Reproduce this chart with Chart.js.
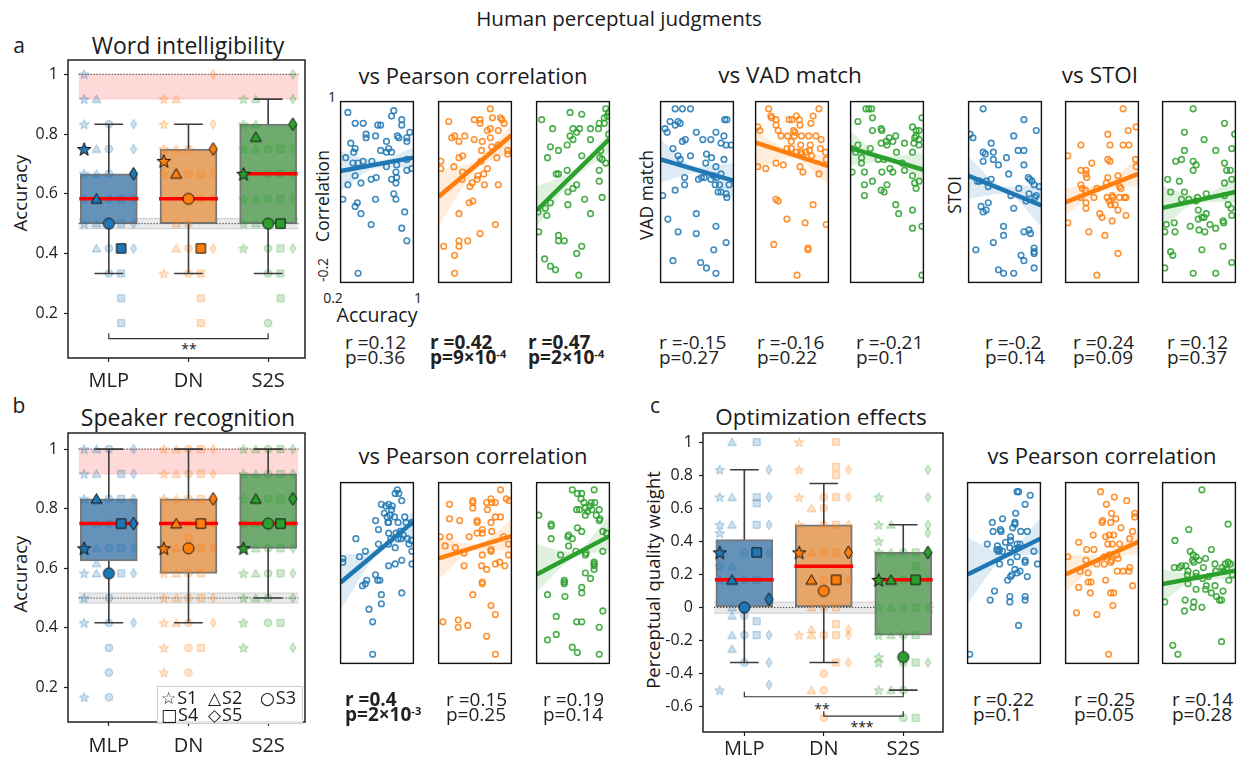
<!DOCTYPE html>
<html>
<head>
<meta charset="utf-8">
<title>Human perceptual judgments</title>
<script src="https://cdn.jsdelivr.net/npm/chart.js@4.4.1/dist/chart.umd.min.js"></script>
<style>
html, body { margin: 0; padding: 0; background: #fff; }
#fig { position: relative; width: 1238px; height: 760px; overflow: hidden; font-family: 'Open Sans', sans-serif; color: #1a1a1a; }
#fig canvas { position: absolute; }
.t { position: absolute; white-space: nowrap; transform: translate(-50%, -50%); line-height: 1; }
.t.rot { transform: translate(-50%, -50%) rotate(-90deg); }
.stat { position: absolute; white-space: nowrap; font-size: 19px; line-height: 15px; color: #222; }
.stat.sig { font-weight: bold; }
.stat sup { font-size: 11px; line-height: 0; vertical-align: 6px; }
.legend { position: absolute; left: 157px; top: 686px; width: 144px; height: 36px; border: 1px solid #cfcfcf; background: rgba(255,255,255,0.85); font-size: 18px; }
.legend span { position: absolute; white-space: nowrap; line-height: 1; transform: translateY(-50%); }
.legend b { font-family: 'DejaVu Sans', sans-serif; font-weight: normal; font-size: 17px; margin-right: 1px; }
</style>
</head>
<body>
<div id="fig"></div>
<script>
// ---------- categories ----------
const groups = ['MLP', 'DN', 'S2S'];
const subjects = ['S1', 'S2', 'S3', 'S4', 'S5'];
const shapes = ['star', 'triangle', 'circle', 'square', 'diamond'];

// ---------- a: word intelligibility (box stats per group) ----------
const wordQ1 = [0.5, 0.5, 0.5];
const wordQ3 = [0.667, 0.75, 0.833];
const wordMed = [0.583, 0.583, 0.667];
const wordLo = [0.333, 0.333, 0.333];
const wordHi = [0.833, 0.833, 0.917];
// subject means (S1..S5) per group
const wordSubj = [[0.75, 0.583, 0.5, 0.417, 0.667], [0.71, 0.667, 0.583, 0.417, 0.75], [0.667, 0.79, 0.5, 0.5, 0.833]];
// individual values per group / subject
const wordFaint = [
  [[1, 0.917, 0.833, 0.667, 0.583, 0.5], [0.917, 0.75, 0.667, 0.5, 0.417], [0.833, 0.75, 0.667, 0.583, 0.417, 0.333], [0.583, 0.5, 0.333, 0.25, 0.167], [0.833, 0.75, 0.583, 0.5, 0.417]],
  [[0.917, 0.833, 0.75, 0.667, 0.333], [0.917, 0.75, 0.5, 0.417], [0.75, 0.667, 0.5, 0.417, 0.333], [0.667, 0.583, 0.333, 0.25, 0.167], [1, 0.833, 0.667, 0.583, 0.417]],
  [[0.917, 0.833, 0.75, 0.583, 0.5, 0.417], [0.917, 0.833, 0.75, 0.583, 0.5], [0.75, 0.667, 0.583, 0.417, 0.333, 0.167], [0.75, 0.667, 0.583, 0.417, 0.333, 0.25], [1, 0.917, 0.75, 0.667, 0.583, 0.417]]
];

// ---------- b: speaker recognition ----------
const spkQ1 = [0.625, 0.583, 0.667];
const spkQ3 = [0.833, 0.833, 0.917];
const spkMed = [0.75, 0.75, 0.75];
const spkLo = [0.417, 0.417, 0.5];
const spkHi = [1, 1, 1];
const spkSubj = [[0.667, 0.833, 0.583, 0.75, 0.75], [0.667, 0.75, 0.667, 0.75, 0.833], [0.667, 0.833, 0.75, 0.75, 0.833]];
const spkFaint = [
  [[1, 0.917, 0.833, 0.583, 0.5, 0.417, 0.167], [1, 0.917, 0.75, 0.667, 0.617, 0.583], [1, 0.833, 0.75, 0.667, 0.5, 0.417, 0.333, 0.25, 0.167], [0.917, 0.833, 0.667, 0.583], [1, 0.917, 0.833, 0.667, 0.583, 0.417]],
  [[1, 0.917, 0.833, 0.583, 0.5, 0.417, 0.333, 0.25], [1, 0.917, 0.833, 0.667, 0.583, 0.5, 0.417], [1, 0.917, 0.833, 0.75, 0.7, 0.583, 0.5, 0.417, 0.333, 0.25], [1, 0.917, 0.833, 0.667, 0.583, 0.5, 0.333], [1, 0.917, 0.75, 0.667, 0.5, 0.417]],
  [[1, 0.917, 0.833, 0.75, 0.583, 0.5, 0.417, 0.333], [1, 0.917, 0.75, 0.667, 0.583, 0.5], [1, 0.917, 0.833, 0.667, 0.583, 0.5, 0.417], [1, 0.917, 0.833, 0.667, 0.583, 0.417], [1, 0.917, 0.75, 0.667, 0.583, 0.5, 0.333]]
];

// ---------- c: optimization effects ----------
const optQ1 = [0, 0, -0.167];
const optQ3 = [0.41, 0.5, 0.333];
const optMed = [0.167, 0.25, 0.167];
const optLo = [-0.333, -0.333, -0.5];
const optHi = [0.833, 0.75, 0.5];
const optSubj = [[0.333, 0.167, 0, 0.333, 0.05], [0.333, 0.167, 0.1, 0.167, 0.333], [0.167, 0.167, -0.3, 0.167, 0.333]];
const optFaint = [
  [[0.833, 0.667, 0.5, 0.45, 0.25, 0.167, -0.5], [1, 0.667, 0.5, 0.25, 0, -0.05, -0.167, -0.25], [0.333, 0.167, -0.05, -0.167, -0.333], [1, 0.667, 0.63, 0.5, 0.167, -0.083, -0.167], [0.833, 0.667, 0.5, 0.333, -0.167, -0.333, -0.467]],
  [[1, 0.833, 0.667, 0.5, -0.167], [0.6, 0.333, 0, -0.133, -0.167, -0.5], [0.667, 0.6, 0.5, 0.333, 0.167, 0, -0.167, -0.4, -0.5, -0.667], [1, 0.85, 0.8, 0.667, 0.5, 0.333, 0, -0.1, -0.167, -0.333], [0.833, 0.667, 0.5, 0.167, -0.133, -0.167, -0.333]],
  [[0.667, 0.5, 0.4, 0.333, 0, -0.167, -0.3, -0.333, -0.5], [0.5, 0.333, 0, -0.167, -0.5], [0.333, 0.167, 0, -0.167, -0.333, -0.5, -0.667], [0.333, 0.25, 0.167, 0, -0.167, -0.333, -0.667], [0.833, 0.667, 0.5, 0.45, 0.333, 0.167, 0, -0.333]]
];

// significance brackets: [from group, to group, level]
const wordBrackets = [[0, 2, 0.115]];
const wordStars = ['**'];
const optBrackets = [[0, 2, -0.54], [1, 2, -0.657]];
const optStars = ['**', '***'];

// ---------- scatter panels (x: accuracy, y: metric; both scaled to the panel 0..1) ----------
const wordCorrMLP = [[.10,.94],[.20,.88],[.31,.88],[.70,.92],[.73,.95],[.84,.90],[.84,.87],[.51,.87],[.55,.87],[.35,.82],[.35,.80],[.48,.81],[.14,.77],[.20,.74],[.18,.72],[.63,.78],[.78,.81],[.80,.80],[.91,.80],[.95,.83],[.91,.78],[.55,.73],[.66,.74],[.63,.72],[.70,.72],[.07,.69],[.17,.66],[.24,.66],[.31,.67],[.43,.67],[.63,.64],[.77,.65],[.91,.68],[.98,.63],[.91,.62],[.20,.59],[.76,.61],[.77,.58],[.42,.57],[.49,.58],[.70,.57],[.76,.55],[.10,.54],[.28,.55],[.03,.46],[.48,.46],[.73,.49],[.76,.46],[.20,.42],[.23,.44],[.28,.38],[.88,.39],[.42,.32],[.84,.30],[.91,.23],[.24,.05]];
const wordCorrDN = [[.14,.89],[.49,.90],[.57,.90],[.57,.88],[.71,.96],[.74,.91],[.85,.91],[.87,.90],[.90,.88],[.71,.85],[.67,.84],[.82,.84],[.71,.80],[.60,.78],[.49,.79],[.18,.80],[.22,.81],[.28,.78],[.36,.81],[.82,.76],[.73,.75],[.95,.73],[.95,.71],[.59,.73],[.80,.69],[.28,.69],[.33,.70],[.03,.67],[.03,.63],[.21,.64],[.33,.61],[.58,.67],[.67,.63],[.62,.60],[.54,.59],[.53,.57],[.63,.54],[.82,.54],[.46,.55],[.43,.53],[.32,.57],[.47,.45],[.42,.44],[.28,.38],[.78,.32],[.40,.23],[.57,.27],[.28,.23],[.28,.20],[.07,.20],[.22,.15],[.22,.05]];
const wordCorrS2S = [[.07,.90],[.46,.94],[.62,.93],[.22,.85],[.50,.85],[.55,.83],[.59,.85],[.46,.81],[.50,.79],[.42,.76],[.74,.85],[.74,.79],[.86,.88],[.85,.85],[.93,.88],[.95,.96],[.99,.94],[.93,.91],[.97,.92],[.99,.82],[.19,.75],[.30,.73],[.15,.69],[.62,.70],[.88,.73],[.87,.69],[.90,.68],[.95,.66],[.86,.62],[.86,.56],[.90,.47],[.27,.60],[.30,.60],[.42,.62],[.50,.52],[.55,.54],[.43,.50],[.66,.46],[.43,.43],[.74,.38],[.19,.44],[.12,.41],[.14,.37],[.02,.39],[.03,.28],[.30,.26],[.30,.23],[.38,.23],[.62,.20],[.55,.16],[.11,.13],[.19,.09],[.26,.07],[.58,.04]];
const wordVadMLP = [[.20,.96],[.30,.96],[.41,.96],[.13,.89],[.20,.87],[.24,.89],[.27,.88],[.06,.85],[.09,.83],[.49,.83],[.76,.83],[.58,.79],[.69,.79],[.87,.81],[.88,.90],[.91,.90],[.83,.77],[.90,.76],[.97,.76],[.30,.78],[.34,.79],[.17,.74],[.24,.70],[.27,.68],[.41,.70],[.63,.71],[.70,.69],[.62,.66],[.87,.68],[.76,.64],[.83,.60],[.33,.58],[.52,.57],[.56,.58],[.60,.58],[.69,.57],[.73,.59],[.77,.58],[.75,.54],[.81,.54],[.94,.54],[.79,.50],[.83,.50],[.90,.49],[.91,.47],[.03,.48],[.20,.51],[.33,.54],[.49,.38],[.10,.35],[.24,.28],[.49,.27],[.76,.31],[.90,.22],[.73,.18],[.17,.12],[.55,.11],[.63,.08],[.76,.05]];
const wordVadDN = [[.18,.96],[.21,.92],[.22,.91],[.28,.90],[.28,.87],[.03,.86],[.06,.84],[.31,.84],[.46,.90],[.50,.90],[.56,.92],[.60,.90],[.61,.87],[.79,.92],[.76,.88],[.87,.96],[.52,.84],[.54,.83],[.53,.81],[.44,.81],[.35,.81],[.63,.81],[.73,.81],[.83,.81],[.49,.78],[.62,.76],[.75,.76],[.90,.79],[.43,.74],[.49,.74],[.56,.72],[.62,.72],[.69,.72],[.64,.71],[.74,.73],[.89,.74],[.96,.72],[.77,.70],[.97,.68],[.28,.66],[.38,.65],[.03,.64],[.14,.63],[.61,.64],[.65,.61],[.87,.60],[.28,.46],[.31,.45],[.79,.43],[.43,.35],[.68,.33],[.97,.32],[.25,.21],[.72,.19],[.72,.18],[.57,.04]];
const wordVadS2S = [[.21,.96],[.25,.96],[.29,.96],[.10,.89],[.30,.91],[.30,.84],[.42,.85],[.43,.84],[.98,.91],[.85,.86],[.90,.84],[.94,.84],[.90,.81],[.88,.80],[.94,.79],[.53,.80],[.62,.81],[.49,.78],[.42,.77],[.58,.78],[.50,.76],[.74,.77],[.87,.77],[.94,.76],[.01,.74],[.10,.76],[.07,.72],[.27,.74],[.15,.69],[.15,.66],[.38,.68],[.46,.68],[.63,.72],[.85,.72],[.71,.66],[.02,.61],[.19,.61],[.43,.61],[.54,.63],[.58,.61],[.74,.62],[.85,.59],[.94,.56],[.88,.55],[.90,.52],[.19,.54],[.30,.56],[.50,.54],[.42,.51],[.46,.50],[.19,.48],[.62,.43],[.66,.38],[.85,.40],[.85,.30],[.98,.31],[.98,.04]];
const wordStoiMLP = [[.20,.96],[.76,.90],[.93,.84],[.02,.82],[.06,.80],[.62,.81],[.31,.77],[.20,.72],[.23,.71],[.34,.72],[.20,.67],[.34,.68],[.41,.65],[.52,.69],[.68,.73],[.76,.73],[.76,.65],[.15,.56],[.12,.56],[.24,.56],[.27,.53],[.31,.57],[.55,.60],[.69,.52],[.82,.58],[.84,.57],[.87,.56],[.90,.54],[.97,.53],[.83,.49],[.93,.48],[.91,.47],[.79,.45],[.58,.48],[.17,.42],[.20,.39],[.24,.40],[.27,.44],[.62,.41],[.48,.31],[.48,.26],[.76,.28],[.83,.29],[.85,.27],[.34,.22],[.10,.18],[.72,.15],[.76,.12],[.90,.19],[.90,.17],[.90,.16],[.90,.08],[.41,.07],[.48,.05],[.62,.05]];
const wordStoiDN = [[.79,.96],[.97,.86],[.86,.84],[.58,.82],[.21,.76],[.61,.76],[.79,.76],[.87,.76],[.03,.70],[.36,.66],[.58,.68],[.61,.67],[.96,.68],[.97,.64],[.21,.62],[.28,.62],[.28,.60],[.29,.58],[.58,.58],[.72,.59],[.21,.54],[.23,.52],[.27,.51],[.43,.52],[.56,.55],[.74,.53],[.76,.52],[.21,.47],[.28,.44],[.39,.47],[.57,.47],[.64,.48],[.65,.47],[.74,.47],[.81,.47],[.83,.47],[.60,.45],[.62,.43],[.68,.43],[.28,.41],[.72,.40],[.47,.38],[.50,.36],[.64,.34],[.83,.37],[.03,.33],[.32,.28],[.54,.26],[.72,.16],[.43,.04]];
const wordStoiS2S = [[.42,.96],[.85,.88],[.30,.83],[.57,.79],[.99,.82],[.30,.73],[.73,.73],[.95,.74],[.18,.67],[.26,.68],[.42,.67],[.46,.65],[.42,.62],[.85,.66],[.88,.62],[.93,.62],[.07,.57],[.23,.56],[.95,.57],[.85,.55],[.11,.50],[.30,.50],[.48,.47],[.46,.45],[.26,.46],[.36,.46],[.60,.49],[.85,.48],[.90,.43],[.94,.41],[.49,.40],[.60,.38],[.57,.36],[.49,.35],[.54,.36],[.05,.32],[.16,.33],[.17,.28],[.03,.28],[.38,.31],[.50,.29],[.58,.28],[.65,.32],[.73,.30],[.83,.34],[.84,.33],[.95,.37],[.83,.20],[.54,.18],[.11,.17],[.14,.15],[.03,.08],[.42,.05],[.73,.05],[.95,.11]];
const spkCorrMLP = [[.78,.96],[.80,.94],[.75,.94],[.84,.90],[.56,.88],[.62,.87],[.66,.88],[.71,.87],[.70,.85],[.60,.83],[.64,.81],[.68,.82],[.74,.81],[.48,.79],[.65,.78],[.66,.78],[.88,.81],[.90,.78],[.79,.78],[.98,.78],[.52,.74],[.66,.72],[.76,.72],[.82,.73],[.86,.71],[.69,.69],[.79,.69],[.83,.69],[.92,.69],[.94,.66],[.97,.68],[.21,.69],[.52,.66],[.66,.66],[.75,.64],[.34,.62],[.26,.59],[.03,.58],[.03,.56],[.98,.62],[.84,.57],[.98,.55],[.66,.54],[.75,.55],[.48,.49],[.51,.46],[.36,.46],[.34,.44],[.30,.43],[.54,.46],[.56,.38],[.84,.39],[.56,.33],[.39,.30],[.44,.23],[.44,.05]];
const spkCorrDN = [[.85,.96],[.72,.91],[.47,.90],[.47,.89],[.15,.88],[.66,.89],[.73,.89],[.78,.89],[.93,.91],[.97,.90],[.47,.86],[.67,.85],[.15,.80],[.29,.79],[.53,.79],[.72,.78],[.78,.81],[.85,.81],[.53,.78],[.60,.74],[.60,.72],[.53,.72],[.42,.70],[.73,.73],[.02,.70],[.15,.70],[.89,.70],[.96,.66],[.09,.65],[.23,.64],[.35,.61],[.60,.60],[.72,.63],[.72,.62],[.96,.60],[.35,.54],[.59,.54],[.66,.52],[.78,.55],[.84,.56],[.91,.54],[.60,.45],[.60,.44],[.47,.38],[.72,.32],[.78,.27],[.06,.23],[.27,.24],[.27,.20],[.40,.21],[.66,.15],[.78,.05]];
const spkCorrS2S = [[.49,.96],[.56,.94],[.62,.94],[.79,.96],[.61,.91],[.65,.89],[.75,.89],[.80,.89],[.73,.87],[.55,.85],[.59,.85],[.67,.86],[.70,.84],[.76,.85],[.86,.85],[.67,.82],[.82,.82],[.03,.82],[.20,.77],[.20,.76],[.56,.75],[.62,.73],[.44,.71],[.43,.70],[.49,.69],[.87,.80],[.86,.79],[.91,.73],[.96,.72],[.20,.69],[.44,.65],[.33,.60],[.54,.62],[.68,.61],[.67,.60],[.91,.62],[.79,.56],[.79,.55],[.79,.54],[.79,.52],[.67,.50],[.74,.47],[.38,.46],[.38,.45],[.38,.44],[.62,.42],[.62,.39],[.15,.38],[.39,.37],[.27,.26],[.55,.23],[.62,.23],[.91,.29],[.86,.20],[.15,.13],[.27,.16],[.49,.09],[.56,.06],[.86,.05]];
const optCorrMLP = [[.68,.95],[.70,.95],[.86,.93],[.79,.88],[.66,.83],[.34,.78],[.48,.80],[.65,.78],[.65,.77],[.35,.73],[.45,.74],[.46,.73],[.62,.75],[.73,.73],[.82,.73],[.27,.66],[.52,.67],[.59,.70],[.59,.68],[.41,.65],[.44,.63],[.40,.63],[.42,.62],[.48,.62],[.58,.64],[.68,.66],[.70,.64],[.72,.66],[.65,.63],[.91,.62],[.68,.59],[.79,.57],[.79,.56],[.96,.55],[.44,.55],[.59,.56],[.65,.52],[.72,.51],[.68,.50],[.61,.49],[.59,.48],[.55,.46],[.82,.48],[.37,.40],[.31,.35],[.58,.37],[.58,.34],[.79,.37],[.79,.35],[.70,.21],[.03,.05]];
const optCorrDN = [[.48,.95],[.67,.92],[.84,.90],[.56,.88],[.63,.83],[.95,.83],[.95,.81],[.51,.79],[.50,.78],[.62,.78],[.69,.80],[.76,.75],[.38,.71],[.55,.70],[.60,.71],[.66,.71],[.92,.73],[.18,.67],[.39,.63],[.58,.66],[.64,.66],[.74,.66],[.88,.69],[.29,.63],[.03,.59],[.28,.57],[.53,.59],[.60,.60],[.70,.60],[.72,.58],[.63,.57],[.53,.55],[.43,.55],[.20,.51],[.31,.50],[.62,.56],[.71,.51],[.79,.51],[.88,.53],[.87,.51],[.55,.46],[.31,.45],[.35,.45],[.18,.42],[.34,.39],[.62,.39],[.66,.39],[.65,.32],[.92,.43],[.15,.28],[.43,.27],[.59,.05]];
const optCorrS2S = [[.54,.96],[.36,.74],[.17,.68],[.90,.77],[.67,.63],[.38,.62],[.42,.60],[.46,.59],[.50,.57],[.59,.58],[.41,.57],[.43,.56],[.26,.54],[.23,.53],[.32,.54],[.16,.53],[.35,.51],[.34,.49],[.46,.50],[.56,.53],[.72,.55],[.82,.53],[.86,.55],[.90,.56],[.93,.55],[.73,.51],[.84,.51],[.88,.52],[.46,.48],[.35,.44],[.55,.47],[.63,.48],[.60,.43],[.72,.43],[.59,.41],[.46,.41],[.67,.39],[.74,.37],[.78,.35],[.81,.35],[.83,.40],[.91,.46],[.96,.49],[.31,.35],[.43,.34],[.30,.29],[.42,.31],[.54,.31],[.03,.34],[.81,.12],[.14,.10],[.21,.05]];

// regression fits (y at left / right edge) and CI band (left, middle, right)
const fitLine = [[.616,.69],[.474,.814],[.398,.793],[.68,.563],[.773,.643],[.743,.623],[.59,.426],[.444,.60],[.412,.50],[.448,.784],[.581,.704],[.492,.704],[.492,.69],[.492,.673],[.439,.513]];
const bandLo = [[.505,.632,.635],[.31,.615,.726],[.31,.568,.717],[.55,.605,.465],[.62,.69,.54],[.646,.67,.558],[.462,.49,.311],[.373,.505,.533],[.302,.44,.444],[.297,.60,.696],[.465,.625,.625],[.395,.58,.625],[.333,.575,.607],[.395,.565,.607],[.342,.462,.465]];
const bandHi = [[.725,.674,.745],[.62,.673,.867],[.531,.622,.832],[.79,.64,.66],[.835,.727,.70],[.832,.70,.717],[.693,.53,.542],[.524,.54,.693],[.533,.475,.586],[.598,.635,.846],[.696,.66,.793],[.660,.615,.819],[.696,.61,.802],[.598,.60,.731],[.519,.49,.572]];

// correlation statistics under each panel
const statR = ['0.12','0.42','0.47','-0.15','-0.16','-0.21','-0.2','0.24','0.12','0.4','0.15','0.19','0.22','0.25','0.14'];
const statP = ['0.36','9×10<sup>-4</sup>','2×10<sup>-4</sup>','0.27','0.22','0.1','0.14','0.09','0.37','2×10<sup>-3</sup>','0.25','0.14','0.1','0.05','0.28'];
const statSig = [false,true,true,false,false,false,false,false,false,true,false,false,false,false,false];

// ---------- styling ----------
const colors = ['#1f77b4', '#ff7f0e', '#2ca02c'];
const boxFill = ['#6592b9', '#e8a568', '#6fab6f'];
const subjOffset = [-0.31, -0.155, 0, 0.155, 0.31];

Chart.defaults.font.family = "'Open Sans', sans-serif";
Chart.defaults.color = '#222';

const fig = document.getElementById('fig');

function rgba(hex, a) {
  const n = parseInt(hex.slice(1), 16);
  return 'rgba(' + (n >> 16) + ',' + ((n >> 8) & 255) + ',' + (n & 255) + ',' + a + ')';
}

function addText(html, x, y, size, rot) {
  const d = document.createElement('div');
  d.className = 't' + (rot ? ' rot' : '');
  d.style.left = x + 'px';
  d.style.top = y + 'px';
  d.style.fontSize = size + 'px';
  d.innerHTML = html;
  fig.appendChild(d);
  return d;
}

function addCanvas(x, y, w, h) {
  const c = document.createElement('canvas');
  c.width = w; c.height = h;
  c.style.left = x + 'px'; c.style.top = y + 'px';
  c.style.width = w + 'px'; c.style.height = h + 'px';
  fig.appendChild(c);
  return c;
}

// marker images used as point styles
function makeMarker(shape, size, fill, stroke, lw) {
  const w = Math.ceil(size) + 2 * (Math.ceil(lw) + 1);
  const c = document.createElement('canvas');
  c.width = w; c.height = w;
  const g = c.getContext('2d');
  const cx = w / 2, cy = w / 2, r = size / 2;
  g.beginPath();
  if (shape === 'star') {
    for (let i = 0; i < 10; i++) {
      const rr = i % 2 ? r * 0.42 : r;
      const a = -Math.PI / 2 + i * Math.PI / 5;
      const px = cx + rr * Math.cos(a), py = cy + r * 0.1 + rr * Math.sin(a);
      if (i) g.lineTo(px, py); else g.moveTo(px, py);
    }
  } else if (shape === 'triangle') {
    g.moveTo(cx, cy - r * 0.95);
    g.lineTo(cx + r, cy + r * 0.8);
    g.lineTo(cx - r, cy + r * 0.8);
  } else if (shape === 'circle') {
    g.arc(cx, cy, r, 0, Math.PI * 2);
  } else if (shape === 'square') {
    g.rect(cx - r * 0.85, cy - r * 0.85, r * 1.7, r * 1.7);
  } else {
    g.moveTo(cx, cy - r);
    g.lineTo(cx + r * 0.62, cy);
    g.lineTo(cx, cy + r);
    g.lineTo(cx - r * 0.62, cy);
  }
  g.closePath();
  g.fillStyle = fill;
  g.fill();
  g.lineWidth = lw;
  g.strokeStyle = stroke;
  g.stroke();
  return c;
}

const boldSize = { star: 14, triangle: 11, circle: 11, square: 11, diamond: 13 };
const faintSize = { star: 10, triangle: 8.5, circle: 7.5, square: 8, diamond: 9.5 };
const boldImg = colors.map(col => shapes.map(s => makeMarker(s, boldSize[s], col, '#111', 1)));
const faintImg = colors.map(col => shapes.map(s => makeMarker(s, faintSize[s], rgba(col, 0.22), rgba(col, 0.38), 1)));

// frame around every axes box
const framePlugin = {
  id: 'frame',
  afterDraw(chart) {
    const a = chart.chartArea, ctx = chart.ctx;
    ctx.save();
    ctx.strokeStyle = '#111';
    ctx.lineWidth = 1.4;
    ctx.strokeRect(a.left, a.top, a.right - a.left, a.bottom - a.top);
    ctx.restore();
  }
};

function fmtTick(v) {
  return String(Math.round(v * 10) / 10);
}

// box plot panel (a, b, c)
function boxPanel(canvas, s) {
  const datasets = [];
  // shaded reference bands
  s.bands.forEach(b => {
    datasets.push({ type: 'line', data: [{ x: -0.38, y: b[0] }, { x: 2.38, y: b[0] }], borderColor: b[3], borderWidth: 1, pointRadius: 0, order: 30 });
    datasets.push({ type: 'line', data: [{ x: -0.38, y: b[1] }, { x: 2.38, y: b[1] }], borderColor: b[3], borderWidth: 1, pointRadius: 0, fill: '-1', backgroundColor: b[2], order: 30 });
  });
  // dotted reference lines
  s.refs.forEach(y => {
    datasets.push({ type: 'line', data: [{ x: -0.38, y: y }, { x: 2.38, y: y }], borderColor: '#333', borderWidth: 1, borderDash: [1.2, 1.8], pointRadius: 0, order: 29 });
  });
  // boxes
  datasets.push({
    type: 'bar', data: groups.map((g, i) => ({ x: i, y: [s.q1[i], s.q3[i]] })),
    backgroundColor: boxFill, borderColor: 'rgba(105,105,105,0.9)', borderWidth: 2, borderSkipped: false, barThickness: 57, order: 25
  });
  // individual values
  const faintPts = [], faintSty = [];
  s.faint.forEach((gr, gi) => gr.forEach((vals, si) => vals.forEach(v => {
    faintPts.push({ x: gi + subjOffset[si], y: v });
    faintSty.push(faintImg[gi][si]);
  })));
  datasets.push({ type: 'scatter', data: faintPts, pointStyle: ctx => faintSty[ctx.dataIndex] || faintSty[0], pointRadius: 4, order: 20 });
  // whiskers and caps
  const wh = [];
  groups.forEach((g, i) => {
    wh.push({ x: i, y: s.hi[i] }, { x: i, y: s.q3[i] }, { x: i, y: null });
    wh.push({ x: i, y: s.q1[i] }, { x: i, y: s.lo[i] }, { x: i, y: null });
    wh.push({ x: i - 0.18, y: s.hi[i] }, { x: i + 0.18, y: s.hi[i] }, { x: i, y: null });
    wh.push({ x: i - 0.18, y: s.lo[i] }, { x: i + 0.18, y: s.lo[i] }, { x: i, y: null });
  });
  datasets.push({ type: 'line', data: wh, borderColor: '#3c3c3c', borderWidth: 1.6, pointRadius: 0, spanGaps: false, order: 15 });
  // medians
  const md = [];
  groups.forEach((g, i) => md.push({ x: i - 0.37, y: s.med[i] }, { x: i + 0.37, y: s.med[i] }, { x: i, y: null }));
  datasets.push({ type: 'line', data: md, borderColor: '#ff0000', borderWidth: 3.5, pointRadius: 0, spanGaps: false, order: 10 });
  // significance brackets
  const br = [];
  s.brackets.forEach(b => {
    br.push({ x: b[0], y: b[2] + s.tick }, { x: b[0], y: b[2] }, { x: b[1], y: b[2] }, { x: b[1], y: b[2] + s.tick }, { x: b[1], y: null });
  });
  datasets.push({ type: 'line', data: br, borderColor: '#333', borderWidth: 1.2, pointRadius: 0, spanGaps: false, order: 10 });
  // subject means
  const boldPts = [], boldSty = [];
  s.subj.forEach((gr, gi) => gr.forEach((v, si) => {
    boldPts.push({ x: gi + subjOffset[si], y: v });
    boldSty.push(boldImg[gi][si]);
  }));
  datasets.push({ type: 'scatter', data: boldPts, pointStyle: ctx => boldSty[ctx.dataIndex] || boldSty[0], pointRadius: 6, order: 1 });

  const axisGrid = { display: true, drawOnChartArea: false, drawTicks: true, tickLength: 4, tickWidth: 1.2, tickColor: '#222', offset: false };
  new Chart(canvas, {
    type: 'scatter',
    data: { datasets: datasets },
    options: {
      responsive: false, animation: false, events: [],
      layout: { padding: { top: s.padTop, right: s.padRight, left: 0, bottom: 0 } },
      plugins: { legend: { display: false }, tooltip: { enabled: false } },
      scales: {
        x: {
          type: 'linear', min: s.xMin, max: s.xMax, offset: false,
          afterFit: sc => { sc.height = s.xAxisH; },
          afterBuildTicks: sc => { sc.ticks = groups.map((g, i) => ({ value: i })); },
          ticks: { callback: v => groups[v], font: { size: 20 }, color: '#222', padding: s.xPad, maxRotation: 0, autoSkip: false },
          grid: axisGrid, border: { display: false }
        },
        y: {
          type: 'linear', min: s.yMin, max: s.yMax,
          afterFit: sc => { sc.width = s.yAxisW; },
          afterBuildTicks: sc => { sc.ticks = s.yTicks.map(v => ({ value: v })); },
          ticks: { callback: fmtTick, font: { size: 16 }, color: '#222', padding: 6 },
          grid: axisGrid, border: { display: false }
        }
      }
    },
    plugins: [framePlugin]
  });
}

// one small regression scatter panel
function scatterPanel(canvas, pts, k, color) {
  new Chart(canvas, {
    type: 'scatter',
    data: {
      datasets: [
        { data: pts.map(p => ({ x: p[0], y: p[1] })), pointRadius: 2.8, pointBorderWidth: 1.6, pointBorderColor: rgba(color, 0.85), pointBackgroundColor: 'rgba(0,0,0,0)', clip: 0, order: 3 },
        { type: 'line', data: bandLo[k].map((v, i) => ({ x: i / 2, y: v })), borderColor: 'rgba(0,0,0,0)', borderWidth: 1, pointRadius: 0, cubicInterpolationMode: 'monotone', order: 2 },
        { type: 'line', data: bandHi[k].map((v, i) => ({ x: i / 2, y: v })), borderColor: 'rgba(0,0,0,0)', borderWidth: 1, pointRadius: 0, cubicInterpolationMode: 'monotone', fill: '-1', backgroundColor: rgba(color, 0.15), order: 2 },
        { type: 'line', data: [{ x: 0, y: fitLine[k][0] }, { x: 1, y: fitLine[k][1] }], borderColor: color, borderWidth: 4.5, pointRadius: 0, order: 1 }
      ]
    },
    options: {
      responsive: false, animation: false, events: [],
      layout: { padding: 2 },
      plugins: { legend: { display: false }, tooltip: { enabled: false } },
      scales: { x: { display: false, min: 0, max: 1 }, y: { display: false, min: 0, max: 1 } }
    },
    plugins: [framePlugin]
  });
}

// ---------- text ----------
addText('Human perceptual judgments', 619, 18, 20.5);
addText('a', 19, 45, 21);
addText('b', 19, 405, 21);
addText('c', 655, 405, 21);
addText('Word intelligibility', 188, 45, 23);
addText('Speaker recognition', 188, 417, 23);
addText('Optimization effects', 821, 417, 22.5);
addText('vs Pearson correlation', 473, 75, 22);
addText('vs VAD match', 790, 75, 22.5);
addText('vs STOI', 1100, 75, 22.5);
addText('vs Pearson correlation', 473, 455, 22);
addText('vs Pearson correlation', 1102, 455, 22);
addText('Accuracy', 20, 193, 18.5, true);
addText('Accuracy', 20, 574, 18.5, true);
addText('Perceptual quality weight', 653, 580, 18.5, true);
addText('Correlation', 323, 196, 17.5, true);
addText('1', 332, 97, 14);
addText('-0.2', 323, 270, 14, true);
addText('0.2', 333, 298, 14);
addText('1', 418, 298, 14);
addText('Accuracy', 377, 315, 19.5);
addText('VAD match', 647, 195, 17.5, true);
addText('STOI', 955, 195, 17.5, true);
addText(wordStars[0], 189, 349, 14);
addText(optStars[0], 822, 709, 14);
addText(optStars[1], 862, 727, 14);

// ---------- box plots ----------
boxPanel(addCanvas(0, 40, 312, 360), {
  q1: wordQ1, q3: wordQ3, med: wordMed, lo: wordLo, hi: wordHi, subj: wordSubj, faint: wordFaint,
  yMin: 0.05, yMax: 1.048, xMin: -0.5125, xMax: 2.4625, yTicks: [0.2, 0.4, 0.6, 0.8, 1],
  bands: [[0.917, 1.0, 'rgba(255,60,60,0.2)', 'rgba(240,150,150,0.35)'], [0.483, 0.517, 'rgba(150,150,150,0.2)', 'rgba(120,120,120,0.3)']],
  refs: [1.0, 0.5], brackets: wordBrackets, tick: 0.018,
  padTop: 20, padRight: 6, yAxisW: 68, xAxisH: 42, xPad: 7
});
boxPanel(addCanvas(0, 410, 312, 350), {
  q1: spkQ1, q3: spkQ3, med: spkMed, lo: spkLo, hi: spkHi, subj: spkSubj, faint: spkFaint,
  yMin: 0.084, yMax: 1.054, xMin: -0.5125, xMax: 2.4625, yTicks: [0.2, 0.4, 0.6, 0.8, 1],
  bands: [[0.917, 1.0, 'rgba(255,60,60,0.2)', 'rgba(240,150,150,0.35)'], [0.483, 0.517, 'rgba(150,150,150,0.2)', 'rgba(120,120,120,0.3)']],
  refs: [1.0, 0.5], brackets: [], tick: 0,
  padTop: 23, padRight: 6, yAxisW: 68, xAxisH: 38, xPad: 8
});
boxPanel(addCanvas(640, 410, 310, 350), {
  q1: optQ1, q3: optQ3, med: optMed, lo: optLo, hi: optHi, subj: optSubj, faint: optFaint,
  yMin: -0.753, yMax: 1.055, xMin: -0.52, xMax: 2.5, yTicks: [-0.6, -0.4, -0.2, 0, 0.2, 0.4, 0.6, 0.8, 1],
  bands: [[-0.035, 0.033, 'rgba(150,150,150,0.2)', 'rgba(120,120,120,0.3)']],
  refs: [0], brackets: optBrackets, tick: 0.03,
  padTop: 23, padRight: 7, yAxisW: 63, xAxisH: 28, xPad: 1
});

// legend of subjects (panel b)
const leg = document.createElement('div');
leg.className = 'legend';
const legSym = ['☆', '△', '○', '□', '◇'];
const legPos = [[3, 10], [50, 10], [102, 10], [3, 27], [50, 27]];
subjects.forEach((s, i) => {
  const sp = document.createElement('span');
  sp.style.left = legPos[i][0] + 'px';
  sp.style.top = legPos[i][1] + 'px';
  sp.innerHTML = '<b>' + legSym[i] + '</b>' + s;
  leg.appendChild(sp);
});
fig.appendChild(leg);

// ---------- scatter panels ----------
const panelData = [wordCorrMLP, wordCorrDN, wordCorrS2S, wordVadMLP, wordVadDN, wordVadS2S, wordStoiMLP, wordStoiDN, wordStoiS2S,
  spkCorrMLP, spkCorrDN, spkCorrS2S, optCorrMLP, optCorrDN, optCorrS2S];
const panelLeft = [337, 435, 533, 657, 752, 847, 965, 1062, 1159, 337, 435, 533, 964, 1062, 1159];
const panelTop = [98, 98, 98, 98, 98, 98, 98, 98, 98, 479, 479, 479, 479, 479, 479];
const statLeft = [345, 430, 528, 659, 757, 856, 985, 1073, 1167, 345, 446, 543, 973, 1074, 1172];

panelData.forEach((pts, k) => {
  const c = addCanvas(panelLeft[k] - 2, panelTop[k] - 2, 84, 192);
  scatterPanel(c, pts, k, colors[k % 3]);
  const st = document.createElement('div');
  st.className = 'stat' + (statSig[k] ? ' sig' : '');
  st.style.left = statLeft[k] + 'px';
  st.style.top = (k < 9 ? 335 : 692) + 'px';
  st.innerHTML = 'r =' + statR[k] + '<br>p=' + statP[k];
  fig.appendChild(st);
});
</script>
</body>
</html>
